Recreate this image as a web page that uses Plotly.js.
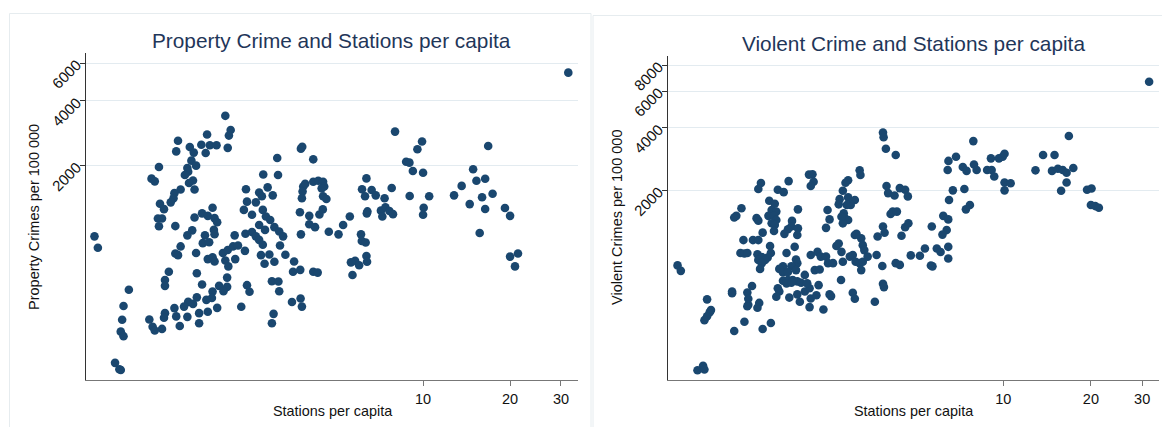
<!DOCTYPE html>
<html>
<head>
<meta charset="utf-8">
<script src="https://cdn.plot.ly/plotly-3.0.1.min.js"></script>
<style>html,body{margin:0;padding:0;background:#fff;}#chart{width:1162px;height:427px;}</style>
</head>
<body>
<div id="chart"></div>
<script>
// ---- Property crime panel ----
const propStations = [
2.07,2.16,2.13,1.79,1.42,1.40,1.56,1.61,1.71,1.83,1.93,1.77,2.11,3.78,3.82,3.13,4.17,
1.22,1.15,1.18,1.58,1.64,1.53,1.54,1.50,1.60,1.55,1.62,1.45,1.38,1.37,1.34,1.23,1.27,1.21,1.25,1.22,1.39,1.62,1.72,1.80,1.87,1.90,1.94,1.89,1.90,1.59,1.53,1.76,1.73,1.82,1.45,1.39,1.42,1.64,1.80,1.87,1.90,
0.73,0.75,
2.23,2.03,2.11,2.20,2.29,2.07,2.12,2.24,2.42,2.43,2.56,2.44,2.80,3.15,2.90,2.71,3.02,2.77,2.46,2.64,2.40,2.56,2.79,2.86,2.96,2.71,2.84,3.06,3.18,3.28,3.20,2.64,2.71,2.79,2.75,2.94,2.83,3.06,3.34,3.58,3.55,3.76,3.78,
4.04,4.23,4.17,4.32,
1.32,1.28,1.28,1.65,1.72,1.97,2.10,2.10,2.04,1.87,1.86,1.78,1.65,1.54,1.49,1.60,1.38,1.28,1.27,1.40,1.53,1.68,1.80,1.94,1.68,1.44,1.25,1.13,1.16,1.18,
2.46,2.51,2.35,3.00,3.16,3.18,3.52,3.77,3.81,3.04,3.00,
0.96,0.92,0.91,0.90,0.92,0.86,0.89,0.90,
3.85,3.91,4.17,4.34,4.51,4.55,4.46,3.83,3.81,4.51,4.63,3.75,4.04,4.38,4.50,
8.00,9.92,9.56,16.8,8.74,8.97,9.22,10.0,14.9,15.3,16.4,13.6,12.8,14.5,16.0,17.4,16.4,19.2,20.0,15.7,20.0,21.3,20.8,
6.37,6.15,6.64,6.30,6.86,7.79,7.36,8.99,10.5,10.05,10.0,6.39,6.42,7.15,7.41,7.65,7.87,7.23,5.58,5.29,4.72,5.10,6.10,6.14,6.33,6.37,6.40,5.82,5.63,6.01,5.70,
31.8
];
const propCrimes = [
3410,2930,2760,2790,2610,2330,2440,2300,2500,2490,2490,2290,2420,2400,2450,2170,2140,
1970,1740,1690,2110,2000,1950,1875,1810,1705,1660,1550,1550,1490,1410,1350,1330,1255,1135,1135,1045,1047,1148,1200,1168,1275,1140,1090,1005,960,1000,948,948,872,880,842,780,767,785,735,750,717,
938,830,
948,785,811,842,850,724,680,735,803,965,982,1553,1820,1810,1585,1500,1455,1440,1360,1350,1245,1183,1245,1160,1118,1060,1005,1035,988,938,850,938,903,857,767,772,699,714,770,717,642,655,958,
1067,1035,642,636,
642,588,552,632,560,552,603,546,521,519,485,475,488,465,442,455,435,412,392,398,396,412,418,436,370,359,348,385,356,342,
556,518,441,580,578,521,464,482,442,409,370,
529,445,384,338,322,242,226,224,
1600,1645,1684,1700,1684,1600,1568,1515,1410,1440,1400,1215,1168,1185,1252,
2880,2590,2385,2470,2085,2065,1890,1855,1925,1700,1738,1610,1455,1325,1425,1480,1257,1270,1168,972,755,780,680,
1745,1553,1542,1440,1455,1573,1410,1445,1440,1275,1183,1200,1225,1235,1280,1230,1190,1160,1160,1060,986,958,958,893,878,760,715,722,710,688,620,
5415
];

// ---- Violent crime panel ----
const violStations = [
3.86,3.88,3.95,4.27,3.21,3.23,2.15,2.21,2.23,2.18,1.83,1.47,1.44,1.68,1.76,2.93,2.87,2.81,2.74,2.93,3.09,2.99,2.90,2.72,2.49,2.53,2.46,2.83,2.85,2.93,2.81,2.78,1.97,
1.57,1.64,1.60,1.66,1.56,1.63,1.66,1.60,1.64,1.26,1.21,1.19,1.42,1.44,1.88,1.87,1.82,1.77,1.97,1.96,1.49,1.63,1.28,1.38,1.44,1.58,1.59,1.55,1.25,1.29,1.32,1.43,1.48,1.52,1.44,1.48,1.46,
1.80,1.92,1.94,1.96,1.92,1.87,1.75,1.70,1.75,1.82,1.94,1.75,1.82,1.89,1.96,2.02,1.80,1.87,1.68,1.70,1.66,1.84,1.96,2.08,2.16,2.12,2.08,2.00,2.16,2.18,2.28,2.32,2.41,2.53,2.56,2.77,
2.18,2.30,2.36,2.25,2.34,2.46,2.50,2.60,2.67,2.72,2.78,2.81,2.97,3.04,3.11,3.21,3.29,3.25,3.29,3.25,3.33,3.42,3.09,3.13,3.67,3.84,3.70,3.86,3.91,4.47,4.60,4.72,
4.10,4.17,4.31,4.02,4.23,4.41,4.60,3.97,4.27,4.41,3.86,3.89,3.62,3.04,3.09,
0.76,0.78,0.96,0.99,0.98,0.96,0.94,1.17,1.17,1.32,1.37,1.33,1.33,1.32,1.45,1.43,1.19,1.29,1.49,1.59,0.89,0.93,0.94,
7.89,16.8,6.48,6.88,6.44,7.26,7.48,7.93,8.10,9.07,9.66,9.95,10.1,8.80,9.12,9.31,10.1,10.6,10.1,13.7,15.0,12.9,14.7,15.4,16.0,16.5,17.4,16.5,15.8,19.4,20.1,20.0,20.7,21.3,
6.71,7.35,6.51,7.68,7.44,6.22,6.47,5.68,6.39,6.18,5.91,6.09,6.47,6.47,5.38,5.17,4.81,5.64,5.71,4.70,
31.7
];
const violCrimes = [
3790,3600,3170,2960,2496,2370,2380,2390,2200,2100,2215,2170,2030,2012,1960,2235,2175,1990,1814,1850,1796,1700,1700,1713,1608,1450,1320,1550,1475,1439,1388,1492,1620,
1783,1725,1608,1580,1508,1508,1439,1388,1362,1640,1508,1480,1470,1430,1426,1340,1300,1235,1313,1220,1252,1275,1153,1153,1153,1080,1000,950,1000,993,1000,985,955,924,924,893,838,
1000,1070,930,893,863,863,863,838,805,810,827,735,741,741,730,719,714,719,676,652,616,610,632,652,676,714,784,582,549,604,626,700,535,632,620,741,
978,1012,960,827,832,960,893,893,1080,1110,1012,907,960,978,907,893,907,827,1090,1175,1032,960,1220,1235,978,866,1200,1340,1250,1210,1330,1388,
1540,1580,1580,1940,1890,2050,2012,2100,893,876,711,685,582,643,602,
871,820,598,531,519,496,475,652,640,645,694,602,563,554,575,545,421,467,431,460,273,287,275,
3450,3650,2770,2900,2504,2590,2480,2660,2504,2850,2850,2900,3000,2504,2504,2330,2180,2165,2000,2960,2960,2496,2480,2540,2505,2430,2560,2180,1990,2012,2040,1700,1680,1650,
2000,2030,1796,1700,1620,1508,1450,1340,1288,1225,1050,1010,1070,940,1050,970,973,870,862,1870,
6655
];

const titleLeft = 'Property Crime and Stations per capita';
const titleRight = 'Violent Crime and Stations per capita';
const xTitle = 'Stations per capita';
const yTitleLeft = 'Property Crimes per 100 000';
const yTitleRight = 'Violent Crimes per 100 000';
const xTicks = [10, 20, 30];
const yTicksLeft = [2000, 4000, 6000];
const yTicksRight = [2000, 4000, 6000, 8000];

const W = 1162, H = 427;
const px = v => v / W;
const py = v => (H - v) / H;

const markerStyle = {color: '#1a476f', size: 8.6, line: {width: 0}};
const FONT = 'Liberation Sans, Arial, Helvetica, sans-serif';
const NAVY = '#1f3659';

const traces = [
  {type: 'scatter', mode: 'markers', x: propStations, y: propCrimes, xaxis: 'x', yaxis: 'y', marker: markerStyle, hoverinfo: 'x+y'},
  {type: 'scatter', mode: 'markers', x: violStations, y: violCrimes, xaxis: 'x2', yaxis: 'y2', marker: markerStyle, hoverinfo: 'x+y'}
];

function xAxis(domain, range, anchor) {
  return {type: 'log', domain: domain, range: range, anchor: anchor,
    tickmode: 'array', tickvals: xTicks, ticktext: xTicks.map(String),
    ticks: 'outside', ticklen: 5, tickwidth: 1, tickcolor: '#777',
    showline: true, linecolor: '#777', linewidth: 1.2,
    showgrid: false, zeroline: false, tickfont: {size: 14.5, color: '#111'}, fixedrange: true};
}
function yAxis(domain, range, anchor, vals) {
  return {type: 'log', domain: domain, range: range, anchor: anchor,
    tickmode: 'array', tickvals: vals, ticktext: vals.map(String), tickangle: -45,
    ticks: 'outside', ticklen: 5, tickwidth: 1, tickcolor: '#333',
    showline: true, linecolor: '#333', linewidth: 1.2,
    showgrid: true, gridcolor: '#e3ebf0', gridwidth: 1,
    zeroline: false, tickfont: {size: 15, color: '#111'}, fixedrange: true};
}

const layout = {
  width: W, height: H,
  margin: {l: 0, r: 0, t: 0, b: 0},
  paper_bgcolor: '#ffffff', plot_bgcolor: '#ffffff',
  showlegend: false,
  font: {family: FONT, color: '#111', size: 14},
  xaxis: xAxis([px(86), px(578)], [-0.166, 1.536], 'y'),
  yaxis: yAxis([py(380), py(53)], [2.304, 3.825], 'x', yTicksLeft),
  xaxis2: xAxis([px(668), px(1159)], [-0.152, 1.535], 'y2'),
  yaxis2: yAxis([py(380), py(56)], [2.389, 3.947], 'x2', yTicksRight),
  shapes: [
    {type: 'rect', xref: 'paper', yref: 'paper', x0: px(9.5), x1: px(591), y0: -0.05, y1: py(13.5), line: {color: '#e6ecef', width: 1}, fillcolor: 'rgba(0,0,0,0)', layer: 'below'},
    {type: 'rect', xref: 'paper', yref: 'paper', x0: px(593), x1: 1.05, y0: -0.05, y1: py(15.5), line: {color: '#e6ecef', width: 1}, fillcolor: 'rgba(0,0,0,0)', layer: 'below'}
  ],
  annotations: [
    {text: titleLeft, xref: 'paper', yref: 'paper', x: px(331), y: py(40), xanchor: 'center', yanchor: 'middle', showarrow: false, font: {size: 20.8, color: NAVY}},
    {text: titleRight, xref: 'paper', yref: 'paper', x: px(913.5), y: py(43), xanchor: 'center', yanchor: 'middle', showarrow: false, font: {size: 20.8, color: NAVY}},
    {text: xTitle, xref: 'paper', yref: 'paper', x: px(332), y: py(411), xanchor: 'center', yanchor: 'middle', showarrow: false, font: {size: 14.4, color: '#111'}},
    {text: xTitle, xref: 'paper', yref: 'paper', x: px(913.5), y: py(411), xanchor: 'center', yanchor: 'middle', showarrow: false, font: {size: 14.4, color: '#111'}},
    {text: yTitleLeft, xref: 'paper', yref: 'paper', x: px(34), y: py(217), xanchor: 'center', yanchor: 'middle', textangle: -90, showarrow: false, font: {size: 14.5, color: '#111'}},
    {text: yTitleRight, xref: 'paper', yref: 'paper', x: px(617), y: py(218), xanchor: 'center', yanchor: 'middle', textangle: -90, showarrow: false, font: {size: 14.5, color: '#111'}}
  ]
};

Plotly.newPlot('chart', traces, layout, {displayModeBar: false, staticPlot: true});
</script>
</body>
</html>
